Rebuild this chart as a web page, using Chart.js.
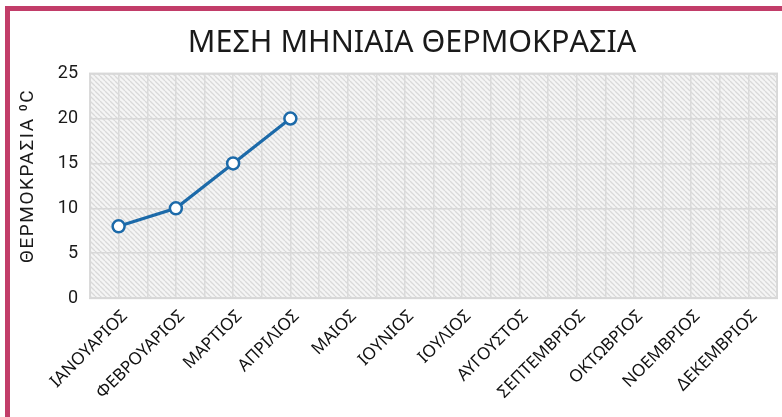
<!DOCTYPE html>
<html>
<head>
<meta charset="utf-8">
<script src="https://cdn.jsdelivr.net/npm/chart.js@4.4.1/dist/chart.umd.min.js"></script>
<style>
    html, body { margin: 0; padding: 0; background: #fff; overflow: hidden; }
    #frame {
        position: absolute;
        left: 5px; top: 6px;
        width: 900px; height: 500px;
        border-left: 5px solid #c23d69;
        border-top: 5px solid #c23d69;
        overflow: hidden;
    }
    #wrap { position: absolute; left: 0; top: 0; width: 805px; height: 392px; }
</style>
</head>
<body>
<div id="frame">
    <div id="wrap"><canvas id="tempChart"></canvas></div>
</div>
<script>
const months = ['ΙΑΝΟΥΑΡΙΟΣ', 'ΦΕΒΡΟΥΑΡΙΟΣ', 'ΜΑΡΤΙΟΣ', 'ΑΠΡΙΛΙΟΣ', 'ΜΑΙΟΣ', 'ΙΟΥΝΙΟΣ',
    'ΙΟΥΛΙΟΣ', 'ΑΥΓΟΥΣΤΟΣ', 'ΣΕΠΤΕΜΒΡΙΟΣ', 'ΟΚΤΩΒΡΙΟΣ', 'ΝΟΕΜΒΡΙΟΣ', 'ΔΕΚΕΜΒΡΙΟΣ'];
const temperatures = [8, 10, 15, 20, null, null, null, null, null, null, null, null];
const yTicks = [0, 5, 10, 15, 20, 25];
const yTitle = 'ΘΕΡΜΟΚΡΑΣΙΑ ⁰C';

// Diagonal hatching behind the plot
function makeHatch() {
    const c = document.createElement('canvas');
    c.width = 5;
    c.height = 5;
    const g = c.getContext('2d');
    g.fillStyle = '#f5f5f5';
    g.fillRect(0, 0, 5, 5);
    g.strokeStyle = '#d9d9d9';
    g.lineWidth = 1.3;
    for (let k = -5; k <= 5; k += 5) {
        g.beginPath();
        g.moveTo(k, 0);
        g.lineTo(k + 5, 5);
        g.stroke();
    }
    return g.createPattern(c, 'repeat');
}

const hatchPlugin = {
    id: 'hatch',
    beforeDraw(chart) {
        const { ctx, chartArea: a } = chart;
        ctx.save();
        ctx.fillStyle = makeHatch();
        ctx.fillRect(a.left, a.top, a.right - a.left, a.bottom - a.top);
        ctx.strokeStyle = '#d6d6d6';
        ctx.lineWidth = 2;
        ctx.strokeRect(a.left, a.top, a.right - a.left, a.bottom - a.top);
        ctx.restore();
    }
};

// Spaced-out vertical axis title
const yTitlePlugin = {
    id: 'yTitle',
    afterDraw(chart) {
        const { ctx, chartArea: a } = chart;
        ctx.save();
        ctx.translate(18, (a.top + a.bottom) / 2 - 10);
        ctx.rotate(-Math.PI / 2);
        ctx.font = '19px Roboto';
        ctx.letterSpacing = '1.5px';
        ctx.fillStyle = '#1a1a1a';
        ctx.textAlign = 'center';
        ctx.textBaseline = 'middle';
        ctx.fillText(yTitle, 0, 0);
        ctx.restore();
    }
};

const canvasContext = document.getElementById('tempChart').getContext('2d');
const chart = new Chart(canvasContext, {
    type: 'line',
    data: {
        labels: months,
        datasets: [{
            data: temperatures,
            borderColor: '#1c6aa9',
            borderWidth: 3.2,
            pointBackgroundColor: '#ffffff',
            pointBorderColor: '#1c6aa9',
            pointBorderWidth: 2.5,
            pointRadius: 6,
            fill: false,
            spanGaps: false
        }]
    },
    plugins: [hatchPlugin, yTitlePlugin],
    options: {
        responsive: true,
        maintainAspectRatio: false,
        animation: false,
        layout: { padding: { left: 37, right: 38, top: 4, bottom: 0 } },
        plugins: {
            legend: { display: false },
            tooltip: { enabled: false },
            title: {
                display: true,
                text: 'ΜΕΣΗ ΜΗΝΙΑΙΑ ΘΕΡΜΟΚΡΑΣΙΑ',
                color: '#1a1a1a',
                font: { family: 'Noto Sans', size: 30.5, weight: 'normal' },
                padding: { top: 10, bottom: 12 }
            }
        },
        scales: {
            x: {
                offset: true,
                grid: { display: false },
                border: { display: false },
                ticks: {
                    color: '#111111',
                    font: { family: 'Noto Sans', size: 17 },
                    maxRotation: 45,
                    minRotation: 45,
                    autoSkip: false,
                    labelOffset: 6,
                    padding: 0
                }
            },
            xg: {
                type: 'linear',
                position: 'bottom',
                min: 0,
                max: 12,
                display: true,
                grid: { color: '#dadada', lineWidth: 1.5, drawTicks: false },
                border: { display: false },
                ticks: { display: false, stepSize: 0.5 },
                afterFit(scale) { scale.height = 0; }
            },
            y: {
                min: 0,
                max: 25,
                afterBuildTicks(scale) { scale.ticks = yTicks.map(v => ({ value: v })); },
                afterFit(scale) { scale.width = 43; },
                grid: { color: '#d8d8d8', lineWidth: 1.5, drawTicks: false },
                border: { display: false },
                ticks: {
                    color: '#1a1a1a',
                    font: { family: 'Roboto', size: 18 },
                    padding: 12
                }
            }
        }
    }
});
</script>
</body>
</html>
